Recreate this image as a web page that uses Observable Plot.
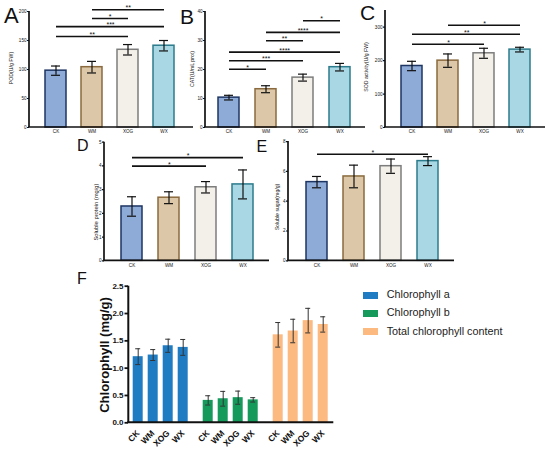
<!DOCTYPE html>
<html><head><meta charset="utf-8">
<script src="https://cdn.jsdelivr.net/npm/d3@7"></script>
<script src="https://cdn.jsdelivr.net/npm/@observablehq/plot@0.6"></script>
<style>
body{margin:0;background:#fff;}
#root{position:relative;width:550px;height:455px;background:#fff;font-family:"Liberation Sans",Arial,sans-serif;overflow:hidden;color:#111}
.pnl{position:absolute}
.letter{position:absolute;line-height:1;color:#111;font-weight:normal}
.ylab{position:absolute;transform:translate(-50%,-50%) rotate(-90deg);white-space:nowrap;line-height:1;color:#111}
.sw{position:absolute;width:15px;height:7px}
.lg{position:absolute;font-size:10.8px;line-height:1;color:#222;white-space:nowrap}
</style></head><body><div id="root"></div>
<script>
const FONT = '"Liberation Sans", Arial, sans-serif';
const groups = ["CK", "WM", "XOG", "WX"];

const podMean = [98, 104, 134, 141];
const podErr = [8, 10, 9, 9];
const podSig = [["WM","WX","**",203],["WM","XOG","*",188],["CK","WX","***",174],["CK","XOG","**",157]];

const catMean = [10.3, 13.2, 17.2, 20.8];
const catErr = [0.8, 1.2, 1.2, 1.3];
const catSig = [["XOG","WX","*",36.8],["WM","WX","****",32.8],["WM","XOG","**",29.9],["CK","WX","****",26],["CK","XOG","***",23],["CK","WM","*",20.1]];

const sodMean = [184, 200, 222, 233];
const sodErr = [14, 20, 15, 7];
const sodSig = [["WM","WX","*",306],["CK","WX","**",279],["CK","XOG","*",249]];

const proteinMean = [2.29, 2.66, 3.10, 3.22];
const proteinErr = [0.41, 0.25, 0.24, 0.61];
const proteinSig = [["CK","WX","*",4.35],["CK","XOG","*",3.99]];

const sugarMean = [5.28, 5.66, 6.35, 6.69];
const sugarErr = [0.38, 0.76, 0.48, 0.30];
const sugarSig = [["CK","WX","*",7.15]];

const chlGroups = ["Chlorophyll a", "Chlorophyll b", "Total chlorophyll content"];
const chlAMean = [1.21, 1.24, 1.41, 1.38];
const chlAErr = [0.145, 0.10, 0.12, 0.145];
const chlBMean = [0.41, 0.44, 0.46, 0.42];
const chlBErr = [0.085, 0.135, 0.12, 0.04];
const chlTMean = [1.61, 1.68, 1.87, 1.80];
const chlTErr = [0.225, 0.215, 0.225, 0.14];
const chlTicks = [0, 0.5, 1.0, 1.5, 2.0, 2.5];

const barFill = ["#8eaad6", "#dcc8a8", "#f3f0ea", "#a9d8e4"];
const barStroke = ["#1d3563", "#8a6a3e", "#7d7d7d", "#2c7b8c"];
const chlColors = ["#1f7cc2", "#169a5c", "#fdba80"];

const root = document.getElementById("root");

function bandFit(c0, cN, bw, n) {
  const step = (cN - c0) / (n - 1);
  const p = 1 - bw / step;
  return {step, p, range: [c0 - bw / 2 - p * step, cN + bw / 2 + p * step]};
}

function addAxisLines(svg, mL, mR, width, sw) {
  const [yb, yt] = svg.scale("y").range;
  const s = d3.select(svg);
  s.append("line").attr("x1", mL).attr("x2", mL).attr("y1", yb).attr("y2", yt)
    .attr("stroke", "#111").attr("stroke-width", sw);
  s.append("line").attr("x1", mL - sw / 2).attr("x2", width - mR).attr("y1", yb).attr("y2", yb)
    .attr("stroke", "#111").attr("stroke-width", sw);
}

function place(el, left, top) {
  const d = document.createElement("div");
  d.className = "pnl";
  d.style.left = left + "px";
  d.style.top = top + "px";
  d.appendChild(el);
  root.appendChild(d);
}

function addText(cls, text, left, top, size, extra) {
  const d = document.createElement("div");
  d.className = cls;
  d.textContent = text;
  d.style.left = left + "px";
  d.style.top = top + "px";
  d.style.fontSize = size + "px";
  if (extra) Object.assign(d.style, extra);
  root.appendChild(d);
}

function barPanel(cfg) {
  const {left, top, width, height, mL, mR, mT, mB, yDomain, yTicks, c0, c3, bw, means, errs, sigs} = cfg;
  const data = groups.map((g, i) => ({g, v: means[i], e: errs[i], f: barFill[i], s: barStroke[i]}));
  const fit = bandFit(c0, c3, bw, groups.length);
  const cap = 9, inset = (bw - cap) / 2;
  const sigData = sigs.map(([a, b, t, y]) => ({a, b, t, y}));
  const svg = Plot.plot({
    width, height, marginLeft: mL, marginRight: mR, marginTop: mT, marginBottom: mB,
    style: {background: "transparent", overflow: "visible", fontFamily: FONT, fontSize: "4.6px", color: "#111"},
    x: {domain: groups, range: fit.range, padding: fit.p},
    y: {domain: yDomain},
    color: {type: "identity"},
    marks: [
      Plot.barY(data, {x: "g", y: "v", fill: "f", stroke: "s", strokeWidth: 1.5}),
      Plot.ruleX(data, {x: "g", y1: d => d.v - d.e, y2: d => d.v + d.e, stroke: "#111", strokeWidth: 1.2}),
      Plot.tickY(data, {x: "g", y: d => d.v + d.e, stroke: "#111", strokeWidth: 1.2, insetLeft: inset, insetRight: inset}),
      Plot.tickY(data, {x: "g", y: d => d.v - d.e, stroke: "#111", strokeWidth: 1.2, insetLeft: inset, insetRight: inset}),
      Plot.axisY({ticks: yTicks, tickFormat: d3.format("~g"), tickSize: 2, tickPadding: 1, label: null, strokeWidth: 1.2}),
      Plot.axisX({tickSize: 0, tickPadding: 2.5, label: null}),
      Plot.link(sigData, {x1: "a", x2: "b", y1: "y", y2: "y", stroke: "#111", strokeWidth: 1.6}),
      ...sigData.map(s => Plot.text([s], {
        x: "a", y: "y", text: "t",
        dx: (groups.indexOf(s.b) - groups.indexOf(s.a)) * fit.step / 2,
        lineAnchor: "bottom", dy: 0.5, fontSize: 7, fill: "#111"
      }))
    ]
  });
  addAxisLines(svg, mL, mR, width, 1.7);
  place(svg, left, top);
}

// Panel A
barPanel({left: 0, top: 0, width: 195, height: 140, mL: 29, mR: 2, mT: 11, mB: 13,
  yDomain: [0, 200], yTicks: [0, 50, 100, 150, 200], c0: 55, c3: 164, bw: 21,
  means: podMean, errs: podErr, sigs: podSig});
// Panel B
barPanel({left: 180, top: 0, width: 190, height: 140, mL: 25, mR: 5, mT: 11, mB: 13,
  yDomain: [0, 40], yTicks: [0, 10, 20, 30, 40], c0: 48.7, c3: 160, bw: 21,
  means: catMean, errs: catErr, sigs: catSig});
// Panel C
barPanel({left: 360, top: 0, width: 190, height: 140, mL: 25, mR: 5, mT: 10, mB: 13,
  yDomain: [0, 350], yTicks: [0, 100, 200, 300], c0: 50.5, c3: 160, bw: 21,
  means: sodMean, errs: sodErr, sigs: sodSig});
// Panel D
barPanel({left: 75, top: 135, width: 200, height: 135, mL: 29, mR: 6, mT: 6.7, mB: 9.7,
  yDomain: [0, 5], yTicks: [0, 1, 2, 3, 4, 5], c0: 56, c3: 168, bw: 21,
  means: proteinMean, errs: proteinErr, sigs: proteinSig});
// Panel E
barPanel({left: 260, top: 135, width: 200, height: 135, mL: 28, mR: 6, mT: 6.1, mB: 9.7,
  yDomain: [0, 8], yTicks: [0, 2, 4, 6, 8], c0: 56.5, c3: 168, bw: 21,
  means: sugarMean, errs: sugarErr, sigs: sugarSig});

// Panel F
(function () {
  const means = [chlAMean, chlBMean, chlTMean];
  const errs = [chlAErr, chlBErr, chlTErr];
  const data = [];
  chlGroups.forEach((cg, gi) => groups.forEach((g, i) => data.push({cg, g, v: means[gi][i], e: errs[gi][i]})));
  const width = 280, height = 180, mL = 68.3, mR = 6.7, mT = 10.7, mB = 32.7;
  const svg = Plot.plot({
    width, height, marginLeft: mL, marginRight: mR, marginTop: mT, marginBottom: mB,
    style: {background: "transparent", overflow: "visible", fontFamily: FONT, fontSize: "8px", color: "#111"},
    fx: {domain: chlGroups, range: [mL, width - mR], paddingInner: 5 / 70, paddingOuter: 0, axis: null},
    x: {domain: groups, paddingInner: 1 / 3, paddingOuter: 1 / 3},
    y: {domain: [0, 2.5]},
    color: {domain: chlGroups, range: chlColors},
    marks: [
      Plot.barY(data, {fx: "cg", x: "g", y: "v", fill: "cg"}),
      Plot.ruleX(data, {fx: "cg", x: "g", y1: d => d.v - d.e, y2: d => d.v + d.e, stroke: "#333", strokeWidth: 1}),
      Plot.tickY(data, {fx: "cg", x: "g", y: d => d.v + d.e, stroke: "#333", strokeWidth: 1, insetLeft: 2.5, insetRight: 2.5}),
      Plot.tickY(data, {fx: "cg", x: "g", y: d => d.v - d.e, stroke: "#333", strokeWidth: 1, insetLeft: 2.5, insetRight: 2.5}),
      Plot.axisY({ticks: chlTicks, tickFormat: d3.format(".1f"), tickSize: 3.5, tickPadding: 1.5, label: null, strokeWidth: 1.8, fontWeight: "bold", fontSize: 8}),
      Plot.axisX({tickRotate: -45, tickSize: 0, tickPadding: 9, label: null, fontWeight: "bold", fontSize: 8.5})
    ]
  });
  addAxisLines(svg, mL, mR, width, 2);
  place(svg, 60, 275);
})();

// Panel letters
addText("letter", "A", 4, 5, 22);
addText("letter", "B", 180, 5.5, 21);
addText("letter", "C", 360, 2.3, 21);
addText("letter", "D", 77, 138, 16);
addText("letter", "E", 256.5, 139, 16);
addText("letter", "F", 77, 271, 16);

// Axis titles
addText("ylab", "POD(U/g FW)", 12, 68, 5.2);
addText("ylab", "CAT(U/mL prot)", 192.7, 69, 5.2);
addText("ylab", "SOD activity(U/g FW)", 367.3, 67, 5.2);
addText("ylab", "Soluble protein (mg/g)", 96.5, 212, 5.8);
addText("ylab", "Soluble sugar(mg/g)", 277.7, 207, 5.2);
addText("ylab", "Chlorophyll (mg/g)", 103.5, 355, 13, {fontWeight: "bold"});

// Legend
chlGroups.forEach((g, i) => {
  const cy = 295 + i * 18.35;
  const sw = document.createElement("div");
  sw.className = "sw";
  sw.style.left = "363.3px";
  sw.style.top = (cy - 3.5) + "px";
  sw.style.background = chlColors[i];
  root.appendChild(sw);
  addText("lg", g, 386.7, cy - 6.2, 10.8);
});
</script></body></html>
